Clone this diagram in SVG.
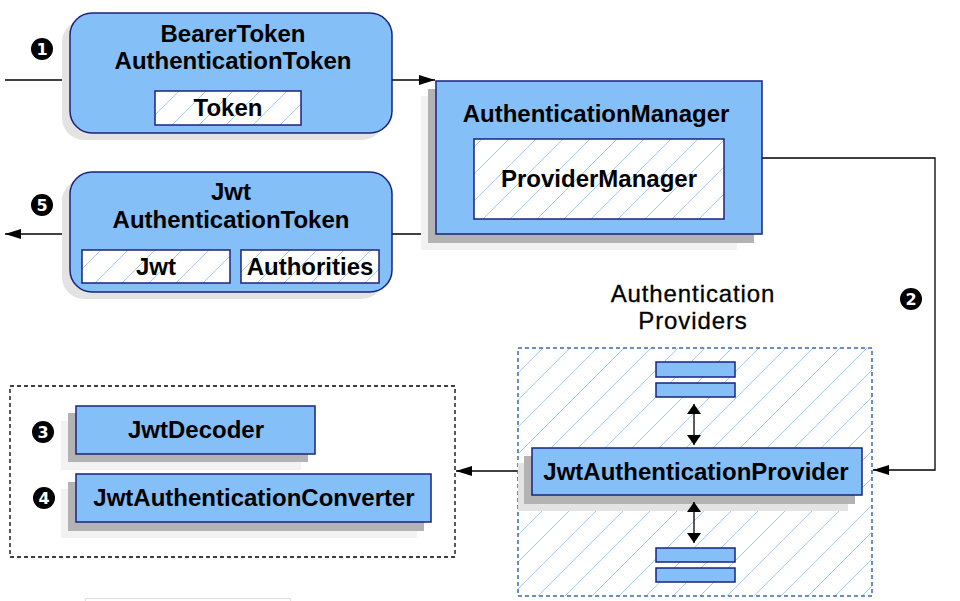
<svg xmlns="http://www.w3.org/2000/svg" width="960" height="601" viewBox="0 0 960 601">
<style>
.node{fill:#85bff7;stroke:#1a237e;stroke-width:1.5}
.hatch{fill:url(#hatch);stroke:#1a237e;stroke-width:1.5}
.sh1{fill:#b3b3b3}
.sh2{fill:#f2f2f2}
.rsh{fill:#e3e3e3}
.t{font-family:"Liberation Sans",Arial,sans-serif;font-weight:bold;font-size:24px;fill:#000;text-anchor:middle}
.lbl{font-family:"Liberation Sans",Arial,sans-serif;font-size:24px;letter-spacing:0.9px;fill:#000;stroke:#000;stroke-width:0.3;text-anchor:middle}
.num{font-family:"DejaVu Sans","Liberation Sans",sans-serif;font-weight:bold;font-size:16px;fill:#fff;text-anchor:middle}
.conn{fill:none;stroke:#000;stroke-width:1.3}
</style>
<defs>
<pattern id="hatch" patternUnits="userSpaceOnUse" width="27" height="27">
<rect width="27" height="27" fill="#fff"/>
<path d="M-2,29 L29,-2 M-2,2 L2,-2 M25,29 L29,25" stroke="#9fcdf7" stroke-width="1"/>
</pattern>
<marker id="arr" viewBox="0 0 10 10" refX="10" refY="5" markerWidth="16" markerHeight="10" markerUnits="userSpaceOnUse" orient="auto-start-reverse" preserveAspectRatio="none">
<path d="M0,0 L10,5 L0,10 z" fill="#000"/>
</marker>
<marker id="darr" viewBox="0 0 10 10" refX="10" refY="5" markerWidth="10" markerHeight="14" markerUnits="userSpaceOnUse" orient="auto-start-reverse" preserveAspectRatio="none">
<path d="M0,0 L10,5 L0,10 z" fill="#000"/>
</marker>
</defs>

<g id="connectors">
<line class="conn" x1="5" y1="80" x2="70" y2="80"/>
<line class="conn" x1="392" y1="80" x2="435" y2="80" marker-end="url(#arr)"/>
<line class="conn" x1="436" y1="234" x2="392" y2="234"/>
<line class="conn" x1="70" y1="234" x2="5" y2="234" marker-end="url(#arr)"/>
<polyline class="conn" points="762,158 935,158 935,470 873,470" marker-end="url(#arr)"/>
<line class="conn" x1="518" y1="471" x2="456" y2="471" marker-end="url(#arr)"/>
</g>

<g id="bearer-token">
<rect class="rsh" x="62" y="20" width="322" height="120" rx="22"/>
<rect class="node" x="70" y="13" width="322" height="120" rx="22"/>
<text class="t" x="233" y="42">BearerToken</text>
<text class="t" x="233" y="69">AuthenticationToken</text>
<rect class="hatch" x="155" y="91" width="146" height="34"/>
<text class="t" x="228" y="116">Token</text>
</g>

<g id="jwt-token">
<rect class="rsh" x="62" y="179" width="322" height="120" rx="22"/>
<rect class="node" x="70" y="172" width="322" height="120" rx="22"/>
<text class="t" x="231" y="200">Jwt</text>
<text class="t" x="231" y="228">AuthenticationToken</text>
<rect class="hatch" x="82" y="250" width="148" height="33"/>
<text class="t" x="156" y="275">Jwt</text>
<rect class="hatch" x="241" y="250" width="138" height="33"/>
<text class="t" x="310" y="275">Authorities</text>
</g>

<g id="authentication-manager">
<rect class="sh2" x="421" y="96" width="316" height="154"/>
<rect class="sh1" x="428" y="89" width="326" height="154"/>
<rect class="node" x="436" y="81" width="326" height="153"/>
<text class="t" x="596" y="122">AuthenticationManager</text>
<rect class="hatch" x="474" y="139" width="250" height="80"/>
<text class="t" x="599" y="187">ProviderManager</text>
</g>

<g id="providers">
<text class="lbl" x="693" y="302">Authentication</text>
<text class="lbl" x="693" y="329">Providers</text>
<rect x="518" y="348" width="354" height="248" fill="url(#hatch)" stroke="#3a6aae" stroke-width="1.5" stroke-dasharray="4,3"/>
<rect class="node" x="656" y="362" width="79" height="15"/>
<rect class="node" x="656" y="383" width="79" height="14"/>
<rect class="node" x="656" y="548" width="79" height="14"/>
<rect class="node" x="656" y="568" width="79" height="14"/>
</g>

<g id="jwt-authentication-provider">
<rect class="rsh" x="518" y="463" width="330" height="48"/>
<rect class="sh1" x="524" y="456" width="331" height="48"/>
<rect class="node" x="532" y="448" width="330" height="47"/>
<text class="t" x="696" y="480">JwtAuthenticationProvider</text>
</g>

<g id="provider-links">
<line class="conn" x1="694" y1="404" x2="694" y2="445" stroke-width="2" marker-start="url(#darr)" marker-end="url(#darr)"/>
<line class="conn" x1="694" y1="502" x2="694" y2="543" stroke-width="2" marker-start="url(#darr)" marker-end="url(#darr)"/>
</g>

<g id="decoders">
<rect x="10" y="386" width="445" height="171" fill="none" stroke="#000" stroke-width="1.3" stroke-dasharray="4,3"/>
</g>

<g id="jwt-decoder">
<rect class="sh2" x="61" y="421" width="240" height="49"/>
<rect class="sh1" x="68" y="413" width="240" height="49"/>
<rect class="node" x="76" y="406" width="239" height="48"/>
<text class="t" x="196" y="438">JwtDecoder</text>
</g>

<g id="jwt-converter">
<rect class="sh2" x="61" y="489" width="356" height="49"/>
<rect class="sh1" x="68" y="482" width="356" height="49"/>
<rect class="node" x="76" y="474" width="355" height="48"/>
<text class="t" x="254" y="506">JwtAuthenticationConverter</text>
</g>

<g id="markers">
<circle cx="42" cy="49" r="11" fill="#000"/><text class="num" x="42" y="55">1</text>
<circle cx="911" cy="299" r="11" fill="#000"/><text class="num" x="911" y="305">2</text>
<circle cx="43" cy="432" r="11" fill="#000"/><text class="num" x="43" y="438">3</text>
<circle cx="44" cy="498" r="11" fill="#000"/><text class="num" x="44" y="504">4</text>
<circle cx="42" cy="205" r="11" fill="#000"/><text class="num" x="42" y="211">5</text>
</g>

<g id="faint">
<path d="M85.5,601 V598.5 H290.5 V601" fill="none" stroke="#dedde8" stroke-width="1"/>
</g>
</svg>
